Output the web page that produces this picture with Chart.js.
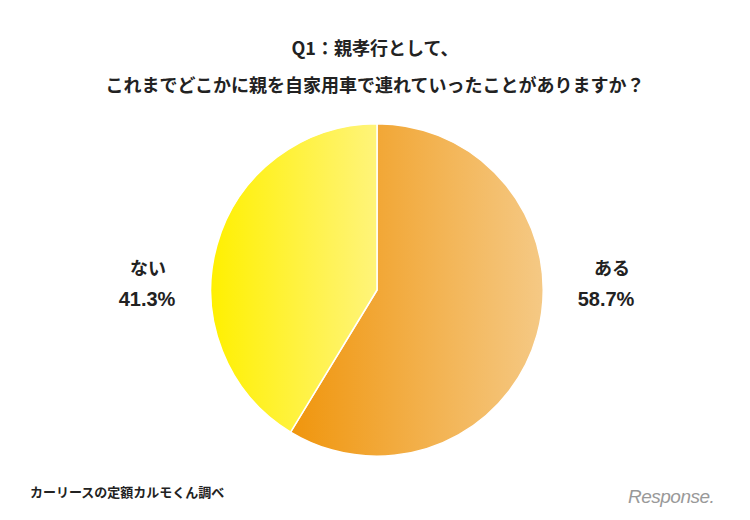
<!DOCTYPE html>
<html><head><meta charset="utf-8">
<script src="https://cdn.jsdelivr.net/npm/chart.js@4"></script>
<style>
body{margin:0;width:750px;height:520px;background:#fff;position:relative;overflow:hidden;font-family:"Noto Sans CJK JP","Noto Sans",sans-serif;color:#222}
.t{position:absolute;left:0;width:750px;text-align:center;font-weight:bold;font-size:18px}
.l{position:absolute;font-weight:bold;font-size:18px;text-align:center;width:100px}
#wrap{position:absolute;left:206px;top:119px;width:342px;height:342px}
</style></head><body>
<div class="t" style="top:34px">Q1：親孝行として、</div>
<div class="t" style="top:71px">これまでどこかに親を自家用車で連れていったことがありますか？</div>
<div class="l" style="left:562px;top:254px">ある</div>
<div class="l" style="left:556px;top:288px;font-family:'Liberation Sans',sans-serif;font-size:20px">58.7%</div>
<div class="l" style="left:98px;top:254px">ない</div>
<div class="l" style="left:97px;top:288px;font-family:'Liberation Sans',sans-serif;font-size:20px">41.3%</div>
<div style="position:absolute;left:30px;top:482px;font-size:13px;font-weight:bold">カーリースの定額カルモくん調べ</div>
<div style="position:absolute;left:628px;top:486px;font-size:19px;font-style:italic;color:#999;font-family:'Liberation Sans',sans-serif;letter-spacing:-0.5px">Response.</div>
<div id="wrap"><canvas id="c"></canvas></div>
<script>
const categories=["ある","ない"];
const values=[58.7,41.3];
function grad(ctx,area,a,b,x0,x1){const g=ctx.createLinearGradient(area.left+x0*area.width,0,area.left+x1*area.width,0);g.addColorStop(0,a);g.addColorStop(1,b);return g;}
new Chart(document.getElementById('c'),{type:'pie',
data:{labels:categories,datasets:[{data:values,borderColor:'#fff',borderWidth:1.5,
backgroundColor:(c)=>{const ch=c.chart;const a=ch.chartArea;if(!a)return '#f5b041';
return c.dataIndex===0?grad(ch.ctx,a,'#f0960e','#f5c985',0.25,1):grad(ch.ctx,a,'#fff000','#fff47a',0,0.5);}}]},
options:{responsive:true,maintainAspectRatio:false,animation:false,layout:{padding:4},
plugins:{legend:{display:false},tooltip:{enabled:false}}}});
</script></body></html>
